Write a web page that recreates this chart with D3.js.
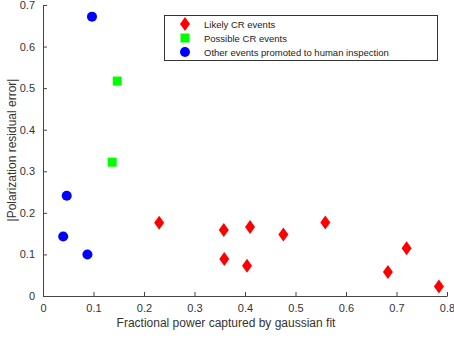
<!DOCTYPE html>
<html><head><meta charset="utf-8">
<script src="https://cdn.jsdelivr.net/npm/d3@7"></script>
<style>body{margin:0;background:#fff}svg{display:block}text{font-family:"Liberation Sans",Arial,sans-serif}</style>
</head><body><svg id="c" width="454" height="338"></svg>
<script>
const likelyX = [0.230, 0.358, 0.410, 0.476, 0.559, 0.359, 0.404, 0.720, 0.683, 0.784];
const likelyY = [0.176, 0.159, 0.166, 0.148, 0.177, 0.089, 0.073, 0.115, 0.058, 0.023];
const possibleX = [0.147, 0.137];
const possibleY = [0.517, 0.322];
const otherX = [0.097, 0.047, 0.040, 0.088];
const otherY = [0.672, 0.241, 0.143, 0.100];
const xTicks = [0, 0.1, 0.2, 0.3, 0.4, 0.5, 0.6, 0.7, 0.8];
const yTicks = [0, 0.1, 0.2, 0.3, 0.4, 0.5, 0.6, 0.7];
const legendLabels = ["Likely CR events", "Possible CR events", "Other events promoted to human inspection"];

const svg = d3.select("#c");
const x = d3.scaleLinear().domain([0, 0.8]).range([43, 447]);
const y = d3.scaleLinear().domain([0, 0.7]).range([296, 5]);

const xAxis = svg.append("g").attr("transform", "translate(0,296)")
  .call(d3.axisBottom(x).tickValues(xTicks).tickFormat(d => d === 0 ? "0" : d3.format(".1f")(d)).tickSizeInner(-4).tickSizeOuter(0).tickPadding(8));
const yAxis = svg.append("g").attr("transform", "translate(43,0)")
  .call(d3.axisLeft(y).tickValues(yTicks).tickFormat(d => d === 0 ? "0" : d3.format(".1f")(d)).tickSizeInner(-4).tickSizeOuter(0).tickPadding(8));
[xAxis, yAxis].forEach(a => {
  a.selectAll("path").attr("stroke", "#444").attr("stroke-width", 1);
  a.selectAll("line").attr("stroke", "#444");
  a.selectAll("text").attr("fill", "#333").style("font-size", "11px").style("font-family", '"Liberation Sans",Arial,sans-serif');
});

svg.append("text").attr("x", 226).attr("y", 327).attr("text-anchor", "middle")
  .style("font-size", "12px").attr("fill", "#333").text("Fractional power captured by gaussian fit");
svg.append("text").attr("transform", "translate(16,150) rotate(-90)").attr("text-anchor", "middle")
  .style("font-size", "12px").attr("fill", "#333").text("|Polarization residual error|");

const diamond = (cx, cy, g) => g.append("path")
  .attr("d", `M${cx},${cy-7}L${cx+5},${cy}L${cx},${cy+7}L${cx-5},${cy}Z`).attr("fill", "#ff0000");
const square = (cx, cy, g) => g.append("rect").attr("x", cx-4.5).attr("y", cy-4.5).attr("width", 9).attr("height", 9).attr("fill", "#00ff00");
const circle = (cx, cy, g) => g.append("circle").attr("cx", cx).attr("cy", cy).attr("r", 5).attr("fill", "#0000ff");

const pts = svg.append("g");
likelyX.forEach((v, i) => diamond(x(v), y(likelyY[i]), pts));
possibleX.forEach((v, i) => square(x(v), y(possibleY[i]), pts));
otherX.forEach((v, i) => circle(x(v), y(otherY[i]), pts));

const lg = svg.append("g");
lg.append("rect").attr("x", 164.5).attr("y", 15.5).attr("width", 273).attr("height", 45)
  .attr("fill", "#fff").attr("stroke", "#333").attr("stroke-width", 1);
const rows = [24, 38, 52];
const markers = [diamond, square, circle];
legendLabels.forEach((t, i) => {
  markers[i](185, rows[i], lg);
  lg.append("text").attr("x", 204).attr("y", rows[i] + 3.5).style("font-size", "9.5px").attr("fill", "#222").text(t);
});
</script></body></html>
